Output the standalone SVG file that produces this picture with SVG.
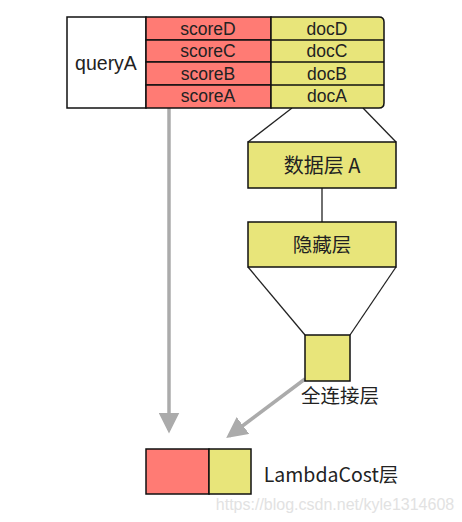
<svg xmlns="http://www.w3.org/2000/svg" width="462" height="522" viewBox="0 0 462 522">
<defs>
<style>
.red{fill:#FF7B74;stroke:#111;stroke-width:1.5}
.yel{fill:#E8E57A;stroke:#111;stroke-width:1.5}
.box{stroke:#111;stroke-width:1.5}
.t{font-family:"Liberation Sans",Arial,sans-serif;fill:#222;text-anchor:middle}
.cjk{font-family:"Noto Sans CJK SC","Liberation Sans",sans-serif;fill:#222;text-anchor:middle}
.ln{stroke:#222;stroke-width:1.3;fill:none}
.ga{stroke:#ABABAB;stroke-width:3.5;fill:none}
</style>
<marker id="ah" markerWidth="6" markerHeight="6" refX="5" refY="3" orient="auto" markerUnits="strokeWidth">
<path d="M0,0 L6,3 L0,6 Z" fill="#ABABAB"/>
</marker>
</defs>
<rect width="462" height="522" fill="#fff"/>
<g id="connectors">
<line class="ln" x1="292" y1="108" x2="248" y2="142"/>
<line class="ln" x1="363" y1="108" x2="396" y2="142"/>
<line class="ln" x1="322" y1="188" x2="322" y2="222"/>
<line class="ln" x1="248" y1="267" x2="305" y2="335"/>
<line class="ln" x1="396" y1="267" x2="350" y2="335"/>
<line class="ga" x1="169" y1="108" x2="169" y2="430" marker-end="url(#ah)"/>
<line class="ga" x1="305" y1="379" x2="229" y2="436" marker-end="url(#ah)"/>
</g>
<g id="queryA">
<rect x="67" y="17" width="79" height="91" fill="#fff" class="box"/>
<text class="t" x="106" y="70" font-size="19.5">queryA</text>
</g>
<g id="scores">
<rect class="red" x="146" y="17" width="125" height="23"/>
<rect class="red" x="146" y="40" width="125" height="22"/>
<rect class="red" x="146" y="62" width="125" height="23"/>
<rect class="red" x="146" y="85" width="125" height="23"/>
<text class="t" x="208" y="35" font-size="17.5">scoreD</text>
<text class="t" x="208" y="57" font-size="17.5">scoreC</text>
<text class="t" x="208" y="80" font-size="17.5">scoreB</text>
<text class="t" x="208" y="102" font-size="17.5">scoreA</text>
</g>
<g id="docs">
<path class="yel" d="M271,17 H379 Q384,17 384,22 V103 Q384,108 379,108 H271 Z"/>
<line class="box" x1="271" y1="40" x2="384" y2="40"/>
<line class="box" x1="271" y1="62" x2="384" y2="62"/>
<line class="box" x1="271" y1="85" x2="384" y2="85"/>
<text class="t" x="327" y="35" font-size="17.5">docD</text>
<text class="t" x="327" y="57" font-size="17.5">docC</text>
<text class="t" x="327" y="80" font-size="17.5">docB</text>
<text class="t" x="327" y="102" font-size="17.5">docA</text>
</g>
<g id="dataLayer">
<rect class="yel" x="248" y="142" width="148" height="46"/>
<text class="cjk" x="322" y="173" font-size="20">数据层 A</text>
</g>
<g id="hiddenLayer">
<rect class="yel" x="248" y="222" width="148" height="45"/>
<text class="cjk" x="322" y="252" font-size="19.5">隐藏层</text>
</g>
<g id="fcLayer">
<rect class="yel" x="305" y="335" width="45" height="46"/>
<text class="cjk" x="340" y="403" font-size="19.5">全连接层</text>
</g>
<g id="lambdaCost">
<rect class="red" x="146" y="449" width="63" height="45"/>
<rect class="yel" x="209" y="449" width="42" height="45"/>
<text class="cjk" x="331" y="482" font-size="19.5">LambdaCost层</text>
</g>
<text x="335" y="510" font-family="'Liberation Sans',Arial,sans-serif" font-size="16" fill="#E2E2E2" text-anchor="middle">https://blog.csdn.net/kyle1314608</text>
</svg>
